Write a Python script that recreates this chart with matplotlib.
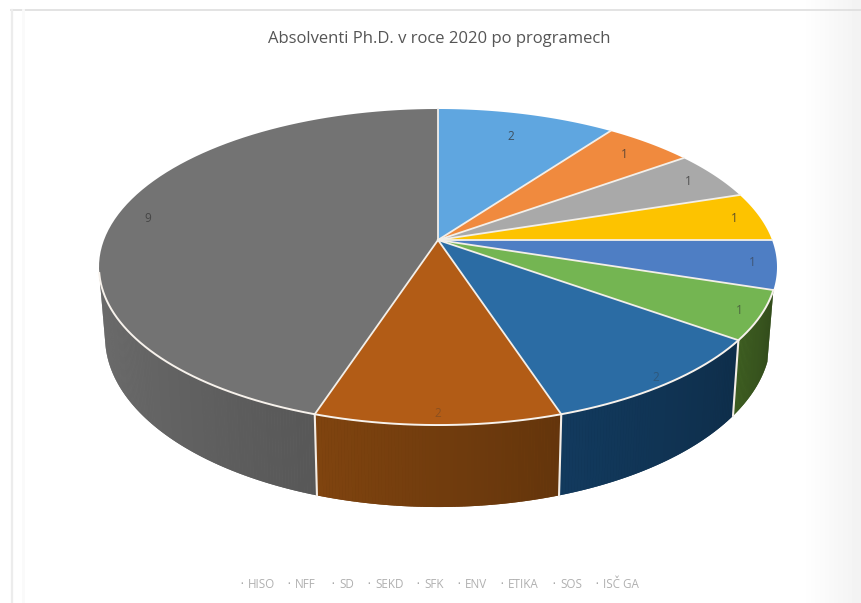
# graf absolventu - 3D kolac s perspektivou
import numpy as np
import matplotlib
matplotlib.use('Agg')
import matplotlib.pyplot as plt

programy = ['HISO', 'NFF', 'SD', 'SEKD', 'SFK', 'ENV', 'ETIKA', 'SOS', 'ISČ GA']
absolventi = [2, 1, 1, 1, 1, 1, 2, 2, 9]
titulek = 'Absolventi Ph.D. v roce 2020 po programech'

barvy_hore = ['#5fa6e0', '#f08a3e', '#a9a9a9', '#fdc300', '#4e7ec4',
              '#74b552', '#2b6ca4', '#b25c16', '#737373']
barvy_bok = ['#3a6f9c', '#a85a20', '#707070', '#b08600', '#2f5590',
             '#3f5f22', '#123a5e', '#80440f', '#707070']

# geometrie v pixelech
CX, CY = 438, 240
RX, RY = 334, 153.4
K = 0.171
CY2, RX2, RY2 = 308, 328, 165
ZACATEK_BOKU, KONEC_BOKU = 108, 258
POLOMER_POPISKU = [0.80, 0.87, 0.90, 0.92, 0.93, 0.94, 0.96, 0.95, 0.90]
PRUHLEDNOST_POPISKU = [0.75, 0.75, 0.75, 0.8, 0.55, 0.6, 0.35, 0.3, 0.7]
LEGENDA_X = [243, 290, 334, 370, 419, 460, 503, 555, 598]


def bod(theta, r=1.0, cy=CY, rx=RX, ry=RY):
    # theta ve stupnich po smeru hodin od vrcholu
    t = np.radians(theta)
    u, v = r * np.sin(t), r * np.cos(t)
    f = 1 / (1 + K * v)
    return CX + rx * u * f, cy - ry * v * f


def dolni(theta):
    return bod(theta, cy=CY2, rx=RX2, ry=RY2)


fig = plt.figure(figsize=(8.61, 6.03), dpi=100)
ax = fig.add_axes([0, 0, 1, 1])
ax.axis('off')

# pozadi: ramecek grafu a sedy pruh vpravo
grad = np.linspace(1, 0.95, 60).reshape(1, -1)
ax.imshow(grad, extent=[801, 861, 603, 0], cmap='gray', vmin=0, vmax=1,
          aspect='auto', zorder=0)
ax.set_xlim(0, 861)
ax.set_ylim(603, 0)
ax.plot([11, 861], [10, 10], color='#dedede', lw=1.2, zorder=1)
ax.plot([12, 12], [10, 602], color='#ececec', lw=1.6, zorder=1)
ax.plot([23, 23], [10, 602], color='#fafafa', lw=2, zorder=1)

hrany = np.cumsum([0] + absolventi) / sum(absolventi) * 360

# boky - jen predni cast, pod pruhy je plny polygon aby nebyly videt spary
for i, (a, b) in enumerate(zip(hrany[:-1], hrany[1:])):
    a2, b2 = max(a, ZACATEK_BOKU), min(b, KONEC_BOKU)
    if b2 <= a2:
        continue
    zaklad = np.array(matplotlib.colors.to_rgb(barvy_bok[i]))
    th = np.linspace(a2, b2, 120)
    xh, yh = bod(th)
    xd, yd = dolni(th)
    ax.fill(np.r_[xh, xd[::-1]], np.r_[yh, yd[::-1]], color=zaklad * 0.89, lw=0, zorder=2)
    kroky = np.linspace(a2, b2, int((b2 - a2) * 2) + 2)
    for t0, t1 in zip(kroky[:-1], kroky[1:]):
        x0, y0 = bod(t0)
        x1, y1 = bod(t1)
        x3, y3 = dolni(t0)
        x2, y2 = dolni(t1)
        # vlevo svetlejsi, doprava tmavne (theta jde zprava doleva)
        podil = (t0 - a2) / (b2 - a2)
        ax.fill([x0, x1, x2, x3], [y0, y1, y2, y3], color=zaklad * (1 - 0.22 * (1 - podil)),
                lw=0, zorder=2)

for a in hrany[6:9]:
    x0, y0 = bod(a)
    x1, y1 = dolni(a)
    ax.plot([x0, x1], [y0, y1], color='#f4ede6', lw=1.5, zorder=3)

# horni plocha
for i, (a, b) in enumerate(zip(hrany[:-1], hrany[1:])):
    th = np.linspace(a, b, 80)
    xs, ys = bod(th)
    ax.fill(np.r_[CX, xs], np.r_[CY, ys], color=barvy_hore[i], lw=0, zorder=4)

# bile hrany: paprsky a predni okraj
for a in hrany[:-1]:
    x, y = bod(a)
    ax.plot([CX, x], [CY, y], color='#f3efe9', lw=1.3, zorder=5)
th = np.linspace(ZACATEK_BOKU, KONEC_BOKU, 200)
xr, yr = bod(th)
ax.plot(xr, yr, color='#f7f2ec', lw=1.4, zorder=5)

# popisky hodnot
for i, (a, b) in enumerate(zip(hrany[:-1], hrany[1:])):
    x, y = bod((a + b) / 2, r=POLOMER_POPISKU[i])
    ax.text(x, y, str(absolventi[i]), ha='center', va='center', fontsize=8.5,
            color='#333333', alpha=PRUHLEDNOST_POPISKU[i], family='Open Sans', zorder=6)

ax.text(439, 39, titulek, ha='center', va='center', fontsize=12,
        color='#555555', family='Open Sans')

# legenda
for x, nazev in zip(LEGENDA_X, programy):
    ax.text(x, 585, '•', ha='right', va='center', fontsize=5, color='#a0a0a0',
            family='Open Sans')
    ax.text(x + 5, 585, nazev, ha='left', va='center', fontsize=8.4,
            color='#b0b0b0', family='Open Sans')

fig.savefig('out.png', dpi=100)
